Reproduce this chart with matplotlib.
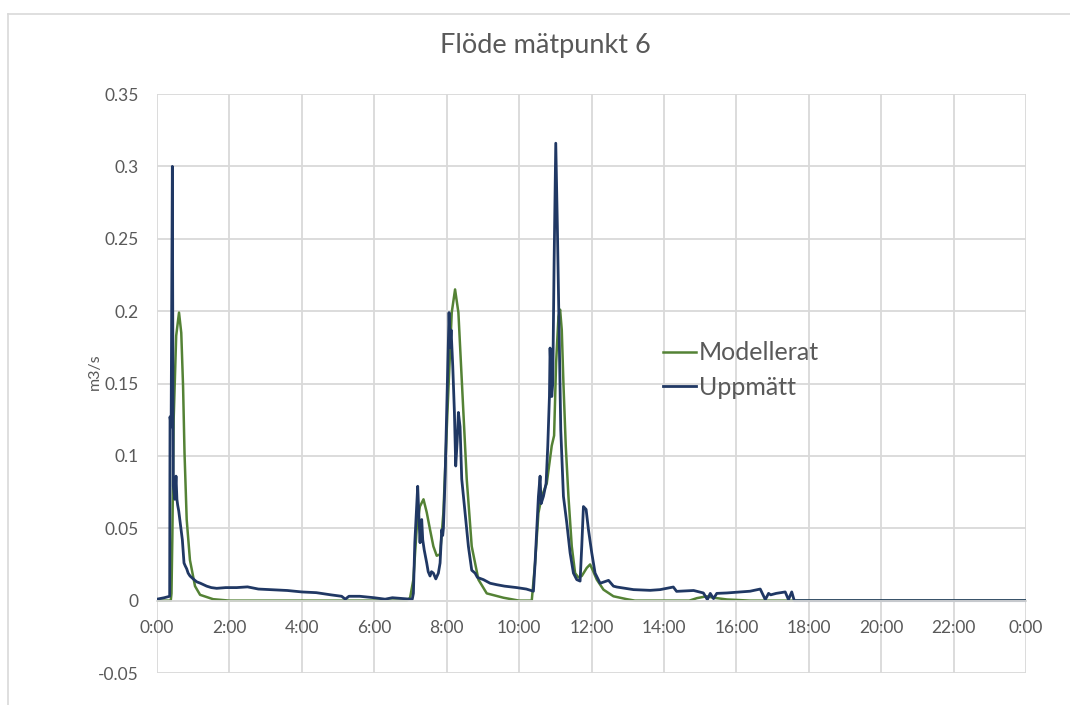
import matplotlib
matplotlib.use("Agg")
import matplotlib.pyplot as plt
from matplotlib.lines import Line2D

plt.rcParams['font.family'] = ['Lato', 'DejaVu Sans']

# tid i timmar, flöde i m3/s
model_h = [0.0, 0.38, 0.40, 0.424, 0.46, 0.53, 0.608, 0.67, 0.72, 0.76, 0.82, 0.91, 1.05, 1.19, 1.55, 2.0,
           6.9, 6.99, 7.08, 7.17, 7.26, 7.36, 7.449, 7.541, 7.633, 7.725, 7.818, 7.910, 8.021, 8.140, 8.232,
           8.324, 8.416, 8.554, 8.692, 8.877, 9.107, 9.568, 10.0,
           10.35, 10.442, 10.534, 10.626, 10.764, 10.902, 10.967, 11.022, 11.087, 11.133, 11.179, 11.225,
           11.289, 11.363, 11.455, 11.547, 11.639, 11.731, 11.869, 11.961, 12.035, 12.146, 12.33, 12.606,
           12.975, 13.2, 14.7, 14.91, 15.18, 15.37, 15.74, 16.38, 24.0]
model_v = [0.0, 0.0, 0.005, 0.044, 0.125, 0.183, 0.199, 0.185, 0.148, 0.102, 0.056, 0.028, 0.010, 0.004, 0.001, 0.0,
           0.0, 0.002, 0.0145, 0.049, 0.065, 0.070, 0.061, 0.049, 0.0375, 0.031, 0.032, 0.061, 0.130, 0.199, 0.215,
           0.199, 0.153, 0.084, 0.0375, 0.0145, 0.005, 0.002, 0.0,
           0.0, 0.026, 0.0605, 0.072, 0.081, 0.107, 0.114, 0.164, 0.196, 0.201, 0.187, 0.150,
           0.107, 0.072, 0.0375, 0.019, 0.016, 0.017, 0.0226, 0.025, 0.021, 0.0145, 0.0076, 0.003,
           0.001, 0.0, 0.0, 0.0017, 0.003, 0.002, 0.0008, 0.0, 0.0]

meas_h = [0.0, 0.20, 0.35, 0.36, 0.39, 0.424, 0.44, 0.451, 0.49, 0.525, 0.55, 0.571, 0.60, 0.635, 0.66, 0.70,
          0.746, 0.78, 0.82, 0.86, 0.912, 1.0, 1.096, 1.2, 1.372, 1.5, 1.648, 1.9, 2.2, 2.5, 2.8, 3.2, 3.6,
          4.0, 4.4, 4.8, 5.1, 5.2, 5.3, 5.6, 6.0, 6.3, 6.5, 7.0,
          7.05, 7.081, 7.12, 7.20, 7.23, 7.265, 7.29, 7.311, 7.339, 7.38, 7.449, 7.49, 7.541, 7.58, 7.633,
          7.70, 7.771, 7.818, 7.864, 7.89, 7.910, 7.956, 8.021, 8.066, 8.094, 8.122, 8.168, 8.214, 8.250,
          8.29, 8.324, 8.370, 8.416, 8.508, 8.600, 8.692, 8.785, 8.85, 9.015, 9.2, 9.383, 9.6, 9.936, 10.2,
          10.396, 10.442, 10.488, 10.534, 10.580, 10.608, 10.672, 10.746, 10.792, 10.838, 10.856, 10.902,
          10.930, 10.967, 11.013, 11.059, 11.105, 11.151, 11.225, 11.317, 11.409, 11.501, 11.593, 11.685,
          11.731, 11.777, 11.851, 11.916, 12.007, 12.099, 12.238,
          12.47, 12.606, 12.7, 13.16, 13.62, 13.895, 14.26, 14.35, 14.82, 15.09, 15.2, 15.28, 15.37, 15.46,
          15.74, 16.1, 16.38, 16.66, 16.8, 16.89, 16.95, 17.1, 17.35, 17.44, 17.53, 17.6, 24.0]
meas_v = [0.001, 0.002, 0.003, 0.127, 0.120, 0.300, 0.150, 0.079, 0.070, 0.086, 0.070, 0.066, 0.062, 0.055, 0.050, 0.042,
          0.026, 0.024, 0.022, 0.019, 0.017, 0.015, 0.013, 0.012, 0.010, 0.009, 0.0085, 0.009, 0.009, 0.0095, 0.008, 0.0075, 0.007,
          0.006, 0.0055, 0.004, 0.003, 0.001, 0.003, 0.003, 0.002, 0.001, 0.002, 0.001,
          0.001, 0.005, 0.040, 0.079, 0.060, 0.040, 0.055, 0.056, 0.042, 0.035, 0.026, 0.020, 0.017, 0.020, 0.019,
          0.015, 0.019, 0.026, 0.049, 0.045, 0.050, 0.084, 0.153, 0.199, 0.175, 0.187, 0.162, 0.130, 0.093,
          0.110, 0.130, 0.120, 0.084, 0.061, 0.0375, 0.021, 0.019, 0.016, 0.0145, 0.012, 0.011, 0.010, 0.009, 0.008,
          0.0065, 0.026, 0.049, 0.072, 0.086, 0.067, 0.072, 0.081, 0.1066, 0.141, 0.1745, 0.141,
          0.150, 0.233, 0.316, 0.256, 0.187, 0.118, 0.072, 0.0537, 0.033, 0.019, 0.0145, 0.0135,
          0.0375, 0.065, 0.063, 0.049, 0.033, 0.019, 0.012,
          0.014, 0.010, 0.0094, 0.0076, 0.0071, 0.0076, 0.0094, 0.0064, 0.007, 0.0053, 0.0007, 0.005, 0.0014, 0.005,
          0.0053, 0.006, 0.0065, 0.008, 0.0007, 0.005, 0.004, 0.005, 0.006, 0.0007, 0.006, 0.0, 0.0]

x_ticks = [0, 2, 4, 6, 8, 10, 12, 14, 16, 18, 20, 22, 24]
x_labels = ['0:00', '2:00', '4:00', '6:00', '8:00', '10:00', '12:00', '14:00', '16:00',
            '18:00', '20:00', '22:00', '0:00']
y_ticks = [-0.05, 0, 0.05, 0.1, 0.15, 0.2, 0.25, 0.3, 0.35]
y_labels = ['-0.05', '0', '0.05', '0.1', '0.15', '0.2', '0.25', '0.3', '0.35']

green = '#548235'
blue = '#203864'
grid = '#d9d9d9'
txt = '#595959'

W, H = 1070, 705
fig = plt.figure(figsize=(W / 100, H / 100), dpi=100)
ax = fig.add_axes([157 / W, 1 - 673 / H, (1026 - 157) / W, (673 - 94) / H])

ax.plot(model_h, model_v, color=green, lw=1.8, label='Modellerat')
ax.plot(meas_h, meas_v, color=blue, lw=2.0, label='Uppmätt')

ax.set_xlim(0, 24)
ax.set_ylim(-0.05, 0.35)
ax.set_xticks(x_ticks)
ax.set_xticklabels(x_labels)
ax.set_yticks(y_ticks)
ax.set_yticklabels(y_labels)
ax.grid(True, color=grid, lw=1.3)
ax.set_axisbelow(True)
for s in ['top', 'right', 'left']:
    ax.spines[s].set_visible(False)
ax.spines['bottom'].set_position(('data', 0))
ax.spines['bottom'].set_color(grid)
ax.spines['bottom'].set_linewidth(1.3)
ax.tick_params(axis='both', length=0, labelsize=12.5, labelcolor=txt)
ax.tick_params(axis='x', pad=14)
ax.tick_params(axis='y', pad=13)

fig.text(545 / W, 1 - 45 / H, 'Flöde mätpunkt 6', ha='center', va='center', fontsize=19.5, color=txt)
fig.text(95 / W, 1 - 372 / H, 'm3/s', ha='center', va='center', rotation=90, fontsize=11.5, color=txt)

handles = [Line2D([], [], color=green, lw=1.8), Line2D([], [], color=blue, lw=2.0)]
fig.legend(handles, ['Modellerat', 'Uppmätt'], loc='center left',
           bbox_to_anchor=(640 / W, 1 - 370 / H), frameon=False, fontsize=18,
           handlelength=1.35, handletextpad=0.1, labelcolor=txt, labelspacing=0.45)

# ram runt diagramytan
fig.add_artist(Line2D([8 / W, 8 / W], [0, 1 - 14 / H], color=grid, lw=1.2, transform=fig.transFigure))
fig.add_artist(Line2D([8 / W, 1], [1 - 14 / H, 1 - 14 / H], color=grid, lw=1.2, transform=fig.transFigure))

fig.savefig('out.png', dpi=100, facecolor='white')
